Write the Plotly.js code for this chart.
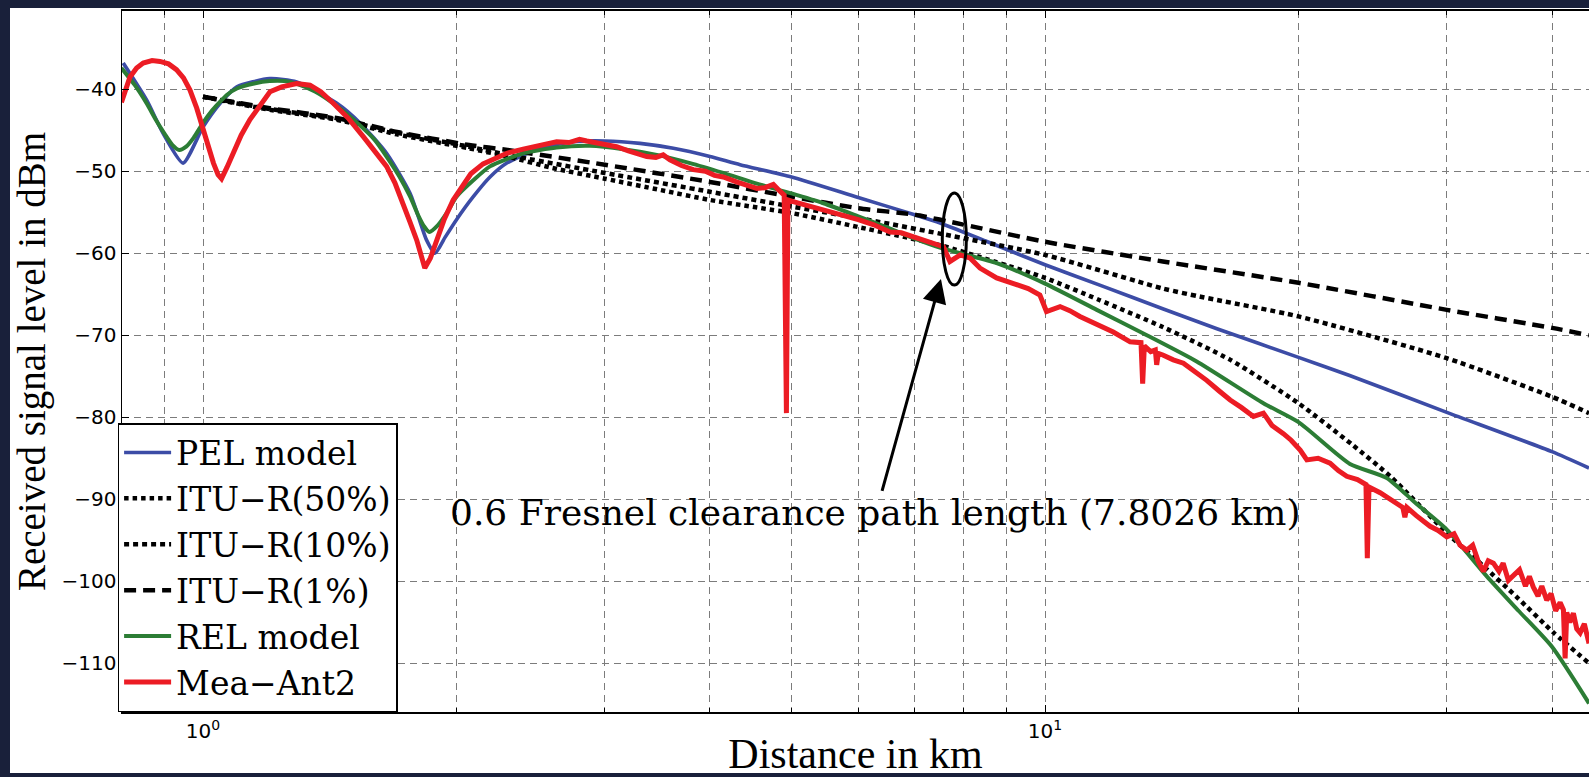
<!DOCTYPE html>
<html>
<head>
<meta charset="utf-8">
<script src="https://cdn.plot.ly/plotly-3.0.1.min.js"></script>
<style>
  html, body { margin:0; padding:0; background:#19203a; width:1589px; height:777px; overflow:hidden; }
  #frame { position:absolute; left:10px; top:8px; width:1579px; height:765px; background:#ffffff; }
  #chart { position:absolute; left:10px; top:8px; width:1579px; height:769px; }
</style>
</head>
<body>
<div id="frame"></div>
<div id="chart"></div>
<script>
// ---------------- data (distance in km, received level in dBm) ----------------
const pelDistance = [0.804,0.857,0.897,0.947,1.0,1.048,1.097,1.2,1.292,1.442,1.536,1.652,1.762,1.843,1.886,1.94,2.0,2.094,2.192,2.295,2.513,2.753,3.0,3.304,3.619,4.0,4.343,5.0,6.0,7.0,7.505,8.5,10,11.7,13.82,16.0,20,23.0,30,40,44.26];
const pelLevel    = [-36.8,-41.3,-45.4,-49.0,-44.6,-41.7,-39.7,-38.7,-39.1,-41.7,-44.1,-47.8,-52.7,-58.4,-60.0,-58.0,-55.9,-53.1,-50.7,-49.0,-47.2,-46.4,-46.3,-46.6,-47.2,-48.2,-49.2,-50.7,-53.2,-55.3,-56.3,-58.5,-61.4,-64.0,-66.8,-69.2,-72.7,-74.9,-79.4,-84.2,-86.2];

const itu50Distance = [1.0,1.2,1.44,1.7,2.07,2.3,2.6,3.0,3.5,4.0,5.0,6.0,7.5,8.7,10,11.6,13.8,16.6,20,23.2,25.7,30,33.2,36.3,40.2,44.26];
const itu50Level    = [-40.9,-42.5,-43.7,-45.5,-47.2,-48.2,-49.6,-50.9,-52.3,-53.5,-55.1,-56.8,-59.0,-61.0,-63.0,-65.7,-69.0,-73.0,-78.3,-83.4,-87.2,-94.1,-98.2,-101.9,-106.3,-110.0];

const itu10Distance = [1.0,1.2,1.44,1.7,2.07,2.3,3.0,4.0,5.0,6.0,7.5,10,13.8,15.3,20,30,40,44.26];
const itu10Level    = [-40.9,-42.4,-43.6,-45.3,-47.0,-48.0,-50.2,-52.5,-54.3,-55.7,-57.6,-60.2,-64.3,-65.3,-67.7,-72.8,-77.5,-79.5];

const itu1Distance = [1.0,1.2,1.44,1.7,2.07,2.3,3.0,4.0,5.0,6.0,7.0,8.0,10,13.8,20,30,40,44.26];
const itu1Level    = [-40.9,-42.3,-43.5,-45.2,-46.8,-47.4,-49.2,-51.3,-53.1,-54.5,-55.3,-56.5,-58.6,-61.0,-63.6,-66.9,-69.1,-70.0];

const relDistance = [0.80,0.83,0.857,0.88,0.90,0.92,0.937,0.955,0.975,1.0,1.025,1.048,1.07,1.097,1.15,1.2,1.25,1.29,1.36,1.44,1.536,1.6,1.652,1.71,1.762,1.80,1.83,1.857,1.90,1.947,2.0,2.094,2.192,2.401,2.63,2.88,3.157,3.458,3.788,4.148,4.547,5.0,5.455,6.0,6.546,7.0,7.5,8.0,8.76,10,11.52,13.21,15.14,18.17,20,23.02,25.46,27.5,30,33.47,36.5,40,44.26];
const relLevel    = [-37.4,-39.5,-41.7,-43.8,-45.4,-46.8,-47.4,-47.0,-45.9,-44.1,-42.6,-41.5,-40.6,-39.9,-39.3,-39.0,-39.0,-39.3,-40.3,-42.0,-44.4,-46.2,-48.2,-50.6,-53.1,-55.3,-56.7,-57.4,-56.6,-55.1,-53.1,-51.1,-49.4,-47.8,-47.1,-46.9,-47.3,-48.0,-49.0,-50.2,-51.5,-52.7,-53.9,-55.5,-57.0,-58.2,-59.3,-60.1,-61.2,-63.7,-66.9,-70.0,-73.2,-78.3,-80.6,-85.7,-87.4,-90.4,-93.7,-99.4,-103.6,-108.0,-114.9];

const meaDistance = [0.80,0.81,0.819,0.834,0.849,0.87,0.889,0.91,0.93,0.948,0.965,0.983,1.0,1.015,1.029,1.042,1.052,1.068,1.086,1.11,1.137,1.17,1.201,1.24,1.292,1.34,1.38,1.428,1.49,1.551,1.60,1.652,1.69,1.729,1.76,1.794,1.815,1.834,1.862,1.894,1.935,1.982,2.036,2.08,2.151,2.22,2.295,2.4,2.513,2.63,2.72,2.80,2.856,2.94,3.0,3.099,3.2,3.28,3.365,3.45,3.52,3.585,3.7,3.822,3.95,4.05,4.148,4.3,4.45,4.547,4.65,4.757,4.84,4.90,4.93,4.95,5.023,5.2,5.455,5.7,6.0,6.25,6.546,6.75,7.0,7.3,7.573,7.71,7.93,8.15,8.37,8.76,9.17,9.55,9.86,10.04,10.42,10.7,11.0,11.5,12.05,12.62,13.0,13.06,13.12,13.35,13.52,13.57,13.63,13.8,14.2,14.6,15.1,15.56,16.1,16.59,17.1,17.68,18.17,18.6,19.19,19.6,20.09,20.46,21.1,21.8,22.3,22.82,23.5,24.05,24.14,24.25,25.0,25.5,26.17,26.6,26.75,26.9,27.6,28.66,29.3,30.0,30.6,31.1,31.68,32.2,32.7,33.16,33.6,34.08,34.6,35.0,35.5,35.98,36.6,37.2,37.6,38.0,38.5,38.9,39.43,39.9,40.4,40.9,41.27,41.46,41.65,42.0,42.41,42.8,43.2,43.7,44.26];
const meaLevel    = [-41.6,-40.0,-38.5,-37.4,-36.8,-36.5,-36.6,-36.9,-37.6,-38.6,-40.1,-42.3,-45.0,-47.2,-49.0,-50.4,-50.9,-49.5,-47.8,-45.6,-43.7,-41.9,-40.3,-39.7,-39.3,-39.5,-40.3,-41.7,-43.6,-45.8,-47.5,-49.4,-51.4,-53.9,-56.1,-58.4,-60.3,-61.8,-60.6,-58.4,-55.8,-53.5,-51.6,-50.3,-49.1,-48.4,-47.8,-47.3,-46.8,-46.4,-46.5,-46.1,-46.3,-46.5,-46.7,-47.0,-47.5,-47.8,-48.2,-48.3,-48.0,-48.6,-49.3,-49.8,-50.0,-50.5,-50.7,-51.3,-51.7,-52.1,-52.0,-51.6,-52.4,-52.9,-79.5,-53.5,-53.7,-54.1,-54.7,-55.3,-55.9,-56.5,-57.4,-57.5,-58.0,-58.6,-59.2,-61.0,-60.2,-60.6,-61.8,-63.0,-63.7,-64.3,-65.1,-67.1,-66.5,-67.0,-67.7,-68.6,-69.6,-70.8,-70.9,-75.9,-71.3,-72.0,-71.8,-73.6,-72.2,-72.4,-73.0,-73.4,-74.5,-75.5,-76.8,-77.9,-78.8,-79.9,-79.5,-81.0,-82.0,-82.8,-84.0,-85.2,-85.0,-85.6,-86.5,-87.2,-87.6,-88.2,-97.2,-88.5,-89.2,-89.8,-90.5,-91.0,-92.2,-91.0,-92.0,-93.3,-93.8,-94.6,-94.2,-95.6,-96.2,-95.6,-97.6,-98.8,-97.5,-97.8,-98.8,-97.8,-99.9,-99.4,-98.6,-100.6,-99.4,-100.7,-101.8,-100.6,-102.3,-101.5,-103.6,-102.6,-103.5,-109.4,-103.8,-105.0,-103.9,-105.8,-106.3,-105.2,-107.6];

const seriesNames = ['PEL model','ITU\u2212R(50%)','ITU\u2212R(10%)','ITU\u2212R(1%)','REL model','Mea\u2212Ant2'];

const distanceTicks = [1, 10];
const distanceTickText = ['10<sup>0</sup>', '10<sup>1</sup>'];
const distanceMinorGrid = [0.9,2,3,4,5,6,7,8,9,20,30,40];
const levelTicks = [-110,-100,-90,-80,-70,-60,-50,-40];

const fresnelDistance = 7.8026;   // km, marked by the ellipse
const fresnelLabel = '0.6 Fresnel clearance path length (7.8026 km)';

// ---------------- traces ----------------
function line(x, y, name, color, width, dash, smooth) {
  return { type:'scatter', mode:'lines', x:x, y:y, name:name,
           line:{ color:color, width:width, dash:dash || 'solid',
                  shape: smooth ? 'spline' : 'linear', smoothing: smooth ? 0.6 : 1 },
           hoverinfo:'skip' };
}
const traces = [
  line(pelDistance,   pelLevel,   seriesNames[0], '#3c4ca6', 3.6, 'solid', true),
  line(itu50Distance, itu50Level, seriesNames[1], '#000000', 4.5, '4.5px,4px', true),
  line(itu10Distance, itu10Level, seriesNames[2], '#000000', 4.5, '5px,4px', true),
  line(itu1Distance,  itu1Level,  seriesNames[3], '#000000', 4.5, '12px,7px', true),
  line(relDistance,   relLevel,   seriesNames[4], '#2c7d35', 4, 'solid', true),
  line(meaDistance,   meaLevel,   seriesNames[5], '#ec1c24', 5, 'solid', false)
];

const gridColor = '#7c7c7c';
const gridDash = '7px,5px';
const L = Math.log10;

const layout = {
  width: 1579, height: 769,
  margin: { l:112, r:0, t:3, b:65, pad:0 },
  paper_bgcolor: 'rgba(0,0,0,0)',
  plot_bgcolor: '#ffffff',
  showlegend: true,
  hovermode: false,
  xaxis: {
    type:'log', range:[-0.0962, 1.646],
    tickmode:'array', tickvals:distanceTicks, ticktext:distanceTickText,
    showgrid:true, gridcolor:gridColor, griddash:gridDash, gridwidth:1,
    ticks:'inside', ticklen:7, tickcolor:'#000', tickwidth:1,
    minor:{ tickmode:'array', tickvals:distanceMinorGrid, showgrid:true,
            gridcolor:gridColor, griddash:gridDash, gridwidth:1,
            ticks:'inside', ticklen:4, tickcolor:'#000' },
    showline:true, linecolor:'#000', linewidth:2, mirror:'ticks',
    zeroline:false,
    tickfont:{ family:'DejaVu Sans', size:20, color:'#000' },
    title:{ text:'Distance in km', font:{ family:'Liberation Serif', size:42, color:'#000' }, standoff:6 }
  },
  yaxis: {
    range:[-115.95, -30.45],
    tickmode:'array', tickvals:levelTicks,
    showgrid:true, gridcolor:gridColor, griddash:gridDash, gridwidth:1,
    ticks:'inside', ticklen:7, tickcolor:'#000', tickwidth:1,
    showline:true, linecolor:'#000', linewidth:1.5, mirror:false,
    zeroline:false,
    tickfont:{ family:'DejaVu Sans', size:20, color:'#000' },
    title:{ text:'Received signal level in dBm', font:{ family:'Liberation Serif', size:39, color:'#000' }, standoff:26 }
  },
  legend: {
    x:-0.003, xanchor:'left', y:0, yanchor:'bottom',
    bgcolor:'#ffffff', bordercolor:'#000000', borderwidth:1.5,
    font:{ family:'DejaVu Serif', size:33, color:'#000' },
    itemwidth:47, tracegroupgap:0
  },
  shapes: [
    { type:'circle', xref:'x', yref:'y',
      x0:fresnelDistance * 0.9677, x1:fresnelDistance * 1.0334,
      y0:-63.87, y1:-52.65,
      line:{ color:'#000', width:3 } }
  ],
  annotations: [
    { xref:'x', yref:'y', x:L(7.523), y:-63.13, text:fresnelLabel,
      showarrow:true, arrowhead:2, arrowsize:1.6, arrowwidth:3, arrowcolor:'#000',
      ax:-65, ay:234, standoff:0,
      font:{ family:'DejaVu Serif', size:36, color:'#000' } }
  ]
};

Plotly.newPlot('chart', traces, layout, { displayModeBar:false, staticPlot:true });
</script>
</body>
</html>
